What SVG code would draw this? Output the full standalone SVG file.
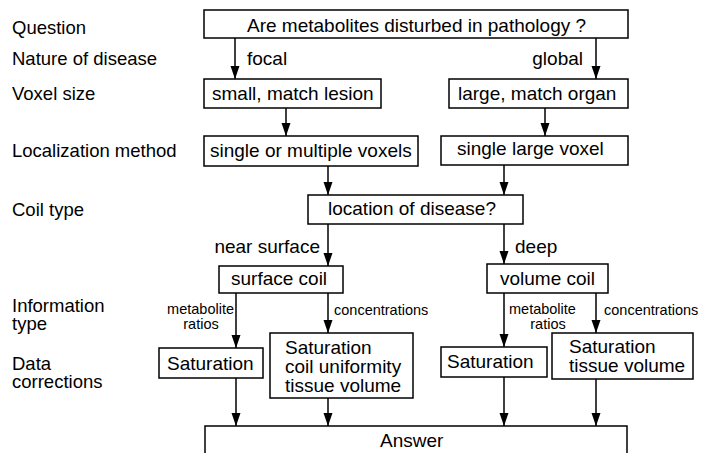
<svg xmlns="http://www.w3.org/2000/svg" width="703" height="453" viewBox="0 0 703 453">
<defs>
<marker id="ah" markerUnits="userSpaceOnUse" markerWidth="13" markerHeight="10" refX="13" refY="5" orient="auto">
<path d="M0,0.5 L13,5 L0,9.5 z" fill="#000"/>
</marker>
<style>
text{font-family:"Liberation Sans",Arial,Helvetica,sans-serif;fill:#000}
.lab{font-size:18.5px}
.bt{font-size:19px}
.sm{font-size:14.5px}
.box{fill:#fff;stroke:#000;stroke-width:1.5}
.con line{stroke:#000;stroke-width:1.5;marker-end:url(#ah)}
</style>
</defs>
<rect width="703" height="453" fill="#fff"/>

<g id="row-labels">
<text class="lab" x="12" y="34">Question</text>
<text class="lab" x="12" y="65">Nature of disease</text>
<text class="lab" x="12" y="100">Voxel size</text>
<text class="lab" x="12" y="157">Localization method</text>
<text class="lab" x="12" y="216">Coil type</text>
<text class="lab" x="12" y="312">Information</text>
<text class="lab" x="12" y="330">type</text>
<text class="lab" x="12" y="370">Data</text>
<text class="lab" x="12" y="388">corrections</text>
</g>

<g class="con" id="connectors">
<line x1="235" y1="38" x2="235" y2="79"/>
<line x1="596" y1="38" x2="596" y2="79"/>
<line x1="286" y1="108" x2="286" y2="136"/>
<line x1="545" y1="108" x2="545" y2="136"/>
<line x1="328" y1="166" x2="328" y2="195"/>
<line x1="504" y1="165" x2="504" y2="195"/>
<line x1="328" y1="224" x2="328" y2="266"/>
<line x1="504" y1="224" x2="504" y2="264"/>
<line x1="236" y1="293" x2="236" y2="348"/>
<line x1="328" y1="293" x2="328" y2="333"/>
<line x1="504" y1="293" x2="504" y2="347"/>
<line x1="596" y1="293" x2="596" y2="333"/>
<line x1="236" y1="378" x2="236" y2="426"/>
<line x1="328" y1="398" x2="328" y2="426"/>
<line x1="504" y1="377" x2="504" y2="426"/>
<line x1="596" y1="379" x2="596" y2="426"/>
</g>

<g id="edge-labels">
<text class="bt" x="247" y="65">focal</text>
<text class="bt" x="583" y="65" text-anchor="end">global</text>
<text class="bt" x="320" y="253" text-anchor="end">near surface</text>
<text class="bt" x="515" y="253">deep</text>
<text class="sm" x="234" y="314" text-anchor="end">metabolite</text>
<text class="sm" x="201" y="329" text-anchor="middle">ratios</text>
<text class="sm" x="334" y="315">concentrations</text>
<text class="sm" x="509" y="314">metabolite</text>
<text class="sm" x="548" y="329" text-anchor="middle">ratios</text>
<text class="sm" x="604" y="315">concentrations</text>
</g>

<g id="question">
<rect class="box" x="204" y="10" width="424" height="28"/>
<text class="bt" x="247" y="32">Are metabolites disturbed in pathology ?</text>
</g>
<g id="small-voxel">
<rect class="box" x="204" y="79" width="177" height="29"/>
<text class="bt" x="212" y="100">small, match lesion</text>
</g>
<g id="large-voxel">
<rect class="box" x="449" y="79" width="179" height="29"/>
<text class="bt" x="458" y="100">large, match organ</text>
</g>
<g id="multi-voxels">
<rect class="box" x="204" y="136" width="214" height="30"/>
<text class="bt" x="210" y="157">single or multiple voxels</text>
</g>
<g id="single-voxel">
<rect class="box" x="441" y="136" width="187" height="29"/>
<text class="bt" x="457" y="155">single large voxel</text>
</g>
<g id="location">
<rect class="box" x="308" y="195" width="215" height="29"/>
<text class="bt" x="328" y="215">location of disease?</text>
</g>
<g id="surface-coil">
<rect class="box" x="219" y="266" width="124" height="27"/>
<text class="bt" x="231" y="285">surface coil</text>
</g>
<g id="volume-coil">
<rect class="box" x="487" y="264" width="121" height="29"/>
<text class="bt" x="500" y="285">volume coil</text>
</g>
<g id="sat-left">
<rect class="box" x="159" y="348" width="104" height="30"/>
<text class="bt" x="167" y="370">Saturation</text>
</g>
<g id="corr-left">
<rect class="box" x="270" y="333" width="143" height="65"/>
<text class="bt" x="285" y="354">Saturation</text>
<text class="bt" x="285" y="373">coil uniformity</text>
<text class="bt" x="285" y="392">tissue volume</text>
</g>
<g id="sat-right">
<rect class="box" x="441" y="347" width="106" height="30"/>
<text class="bt" x="447" y="368">Saturation</text>
</g>
<g id="corr-right">
<rect class="box" x="552" y="333" width="141" height="46"/>
<text class="bt" x="569" y="353">Saturation</text>
<text class="bt" x="569" y="372">tissue volume</text>
</g>
<g id="answer">
<rect class="box" x="205" y="426" width="422" height="40"/>
<text class="bt" x="380" y="447">Answer</text>
</g>
</svg>
